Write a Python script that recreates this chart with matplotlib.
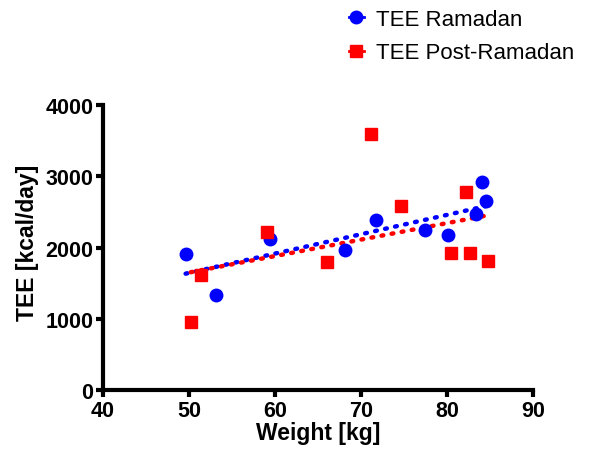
import matplotlib
matplotlib.use("Agg")
import matplotlib.pyplot as plt
import numpy as np

plt.rcParams['font.family'] = ['Liberation Sans', 'DejaVu Sans']

weight_ram = [49.6, 53.1, 59.4, 68.1, 71.7, 77.4, 80.1, 83.4, 84.1, 84.5]
tee_ram = [1910, 1340, 2120, 1970, 2390, 2250, 2175, 2465, 2920, 2650]
weight_post = [50.2, 51.4, 59.1, 66.0, 71.1, 74.6, 80.5, 82.2, 82.7, 84.8]
tee_post = [950, 1615, 2215, 1795, 3590, 2580, 1930, 2775, 1925, 1810]

fig = plt.figure(figsize=(5.89, 4.52), dpi=100)
ax = fig.add_axes([0.175, 0.135, 0.730, 0.630])

ax.plot(weight_ram, tee_ram, 'o', color='#0000ff', markersize=9, linestyle='none', zorder=3)
ax.plot(weight_post, tee_post, 's', color='#ff0000', markersize=8.2, linestyle='none', zorder=3)

for xs, ys, c in [(weight_ram, tee_ram, '#0000ff'), (weight_post, tee_post, '#ff0000')]:
    xs = np.array(xs); ys = np.array(ys)
    m, b = np.polyfit(xs, ys, 1)
    xx = np.array([xs.min(), xs.max()])
    ax.plot(xx, m * xx + b, linestyle=(0, (0.4, 1.9)), color=c, linewidth=3.2, dash_capstyle='round', zorder=2)

ax.set_xlim(40, 90)
ax.set_ylim(0, 4000)
ax.set_xticks([40, 50, 60, 70, 80, 90])
ax.set_yticks([0, 1000, 2000, 3000, 4000])
for s in ['top', 'right']:
    ax.spines[s].set_visible(False)
for s in ['left', 'bottom']:
    ax.spines[s].set_linewidth(3)
ax.tick_params(direction='out', length=5, width=3, labelsize=15.5, pad=2)
for lbl in ax.get_xticklabels() + ax.get_yticklabels():
    lbl.set_fontweight('bold')
ax.set_xlabel('Weight [kg]', fontsize=16.5, fontweight='bold', labelpad=0)
ax.set_ylabel('TEE [kcal/day]', fontsize=16.5, fontweight='bold')
ax.yaxis.set_label_coords(-0.148, 0.52)

h1 = plt.Line2D([], [], color='#0000ff', marker='o', markersize=9, linewidth=2)
h2 = plt.Line2D([], [], color='#ff0000', marker='s', markersize=8.2, linewidth=2)
fig.legend([h1, h2], ['TEE Ramadan', 'TEE Post-Ramadan'], loc='upper left',
           bbox_to_anchor=(0.558, 1.022), frameon=False, fontsize=16,
           handlelength=0.7, handletextpad=0.55, labelspacing=0.55)

fig.savefig('out.png', dpi=100)
